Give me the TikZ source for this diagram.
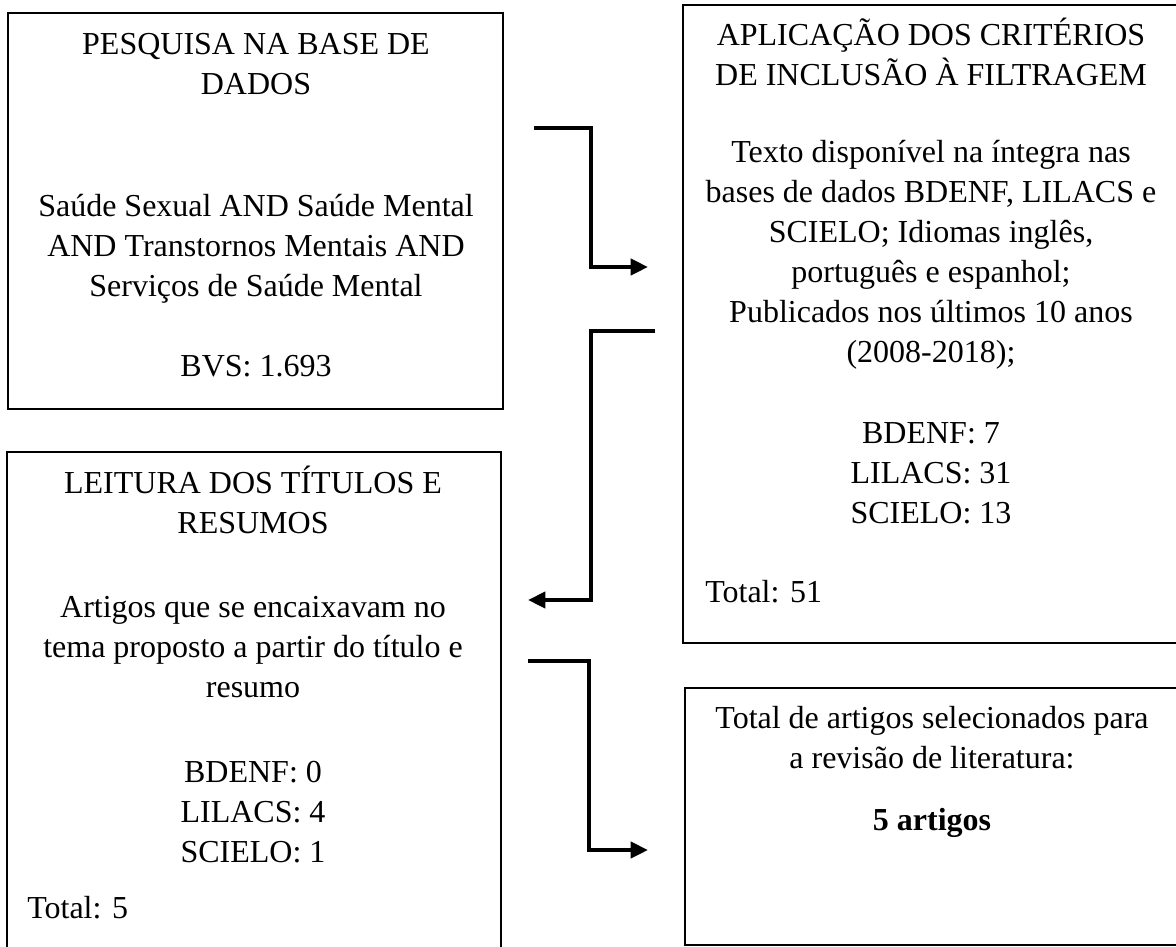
\documentclass[tikz,border=0pt]{standalone}
\usepackage{fontspec}
\setmainfont{Liberation Serif}
\usepackage{tikz}
\usetikzlibrary{arrows.meta}
\usetikzlibrary{positioning}

\tikzset{
    frame/.style={draw, line width=1.1pt},
    txt/.style={align=center, anchor=base, inner sep=0pt, font=\fontsize{24}{30}\selectfont},
    flow/.style={line width=3pt, -{Triangle[length=13pt,width=12pt]}},
}

\begin{document}
\begin{tikzpicture}[x=0.75pt, y=-0.75pt]
            \useasboundingbox (0,0) rectangle (1176,946);
            \clip (0,0) rectangle (1176,946);

            % caixas
            \draw[frame] (8,13) rectangle (503,409);
            \draw[frame] (683,5) rectangle (1190,643);
            \draw[frame] (7,452) rectangle (501,960);
            \draw[frame] (685,688) rectangle (1190,945);

            % pesquisa (base = ultima linha)
            \node[txt] (pesqT) at (256,94) {PESQUISA NA BASE DE\\DADOS};
            \node[txt] (pesqD) at (256,296) {Saúde Sexual AND Saúde Mental\\AND Transtornos Mentais AND\\Serviços de Saúde Mental};
            \node[txt] (pesqN) at (256,376) {BVS: 1.693};

            % criterios
            \node[txt] (critT) at (931,85) {APLICAÇÃO DOS CRITÉRIOS\\DE INCLUSÃO À FILTRAGEM};
            \node[txt] (critD) at (931,362) {Texto disponível na íntegra nas\\bases de dados BDENF, LILACS e\\SCIELO; Idiomas inglês,\\português e espanhol;\\Publicados nos últimos 10 anos\\(2008-2018);};
            \node[txt] (critN) at (931,523) {BDENF: 7\\LILACS: 31\\SCIELO: 13};
            \node[txt, anchor=base west] (critTot) at (705,602) {Total: 51};

            % leitura
            \node[txt] (leitT) at (253,533) {LEITURA DOS TÍTULOS E\\RESUMOS};
            \node[txt] (leitD) at (253,697) {Artigos que se encaixavam no\\tema proposto a partir do título e\\resumo};
            \node[txt] (leitN) at (253,862) {BDENF: 0\\LILACS: 4\\SCIELO: 1};
            \node[txt, anchor=base west] (leitTot) at (27,918) {Total: 5};

            % resultado
            \node[txt] (resD) at (932,768) {Total de artigos selecionados para\\a revisão de literatura:};
            \node[txt, font=\fontsize{24}{30}\selectfont\bfseries] (resN) at (932,830) {5 artigos};

            % setas
            \coordinate (s1) at (534,128);
            \coordinate (e1) at (648,267);
            \coordinate (s2) at (655,331);
            \coordinate (e2) at (528,600);
            \coordinate (s3) at (528,661);
            \coordinate (e3) at (648,850);

            \draw[flow] (s1) -- ++(57,0) |- (e1);
            \draw[flow] (s2) -- ++(-64,0) |- (e2);
            \draw[flow] (s3) -- ++(61,0) |- (e3);
        \end{tikzpicture}
\end{document}
